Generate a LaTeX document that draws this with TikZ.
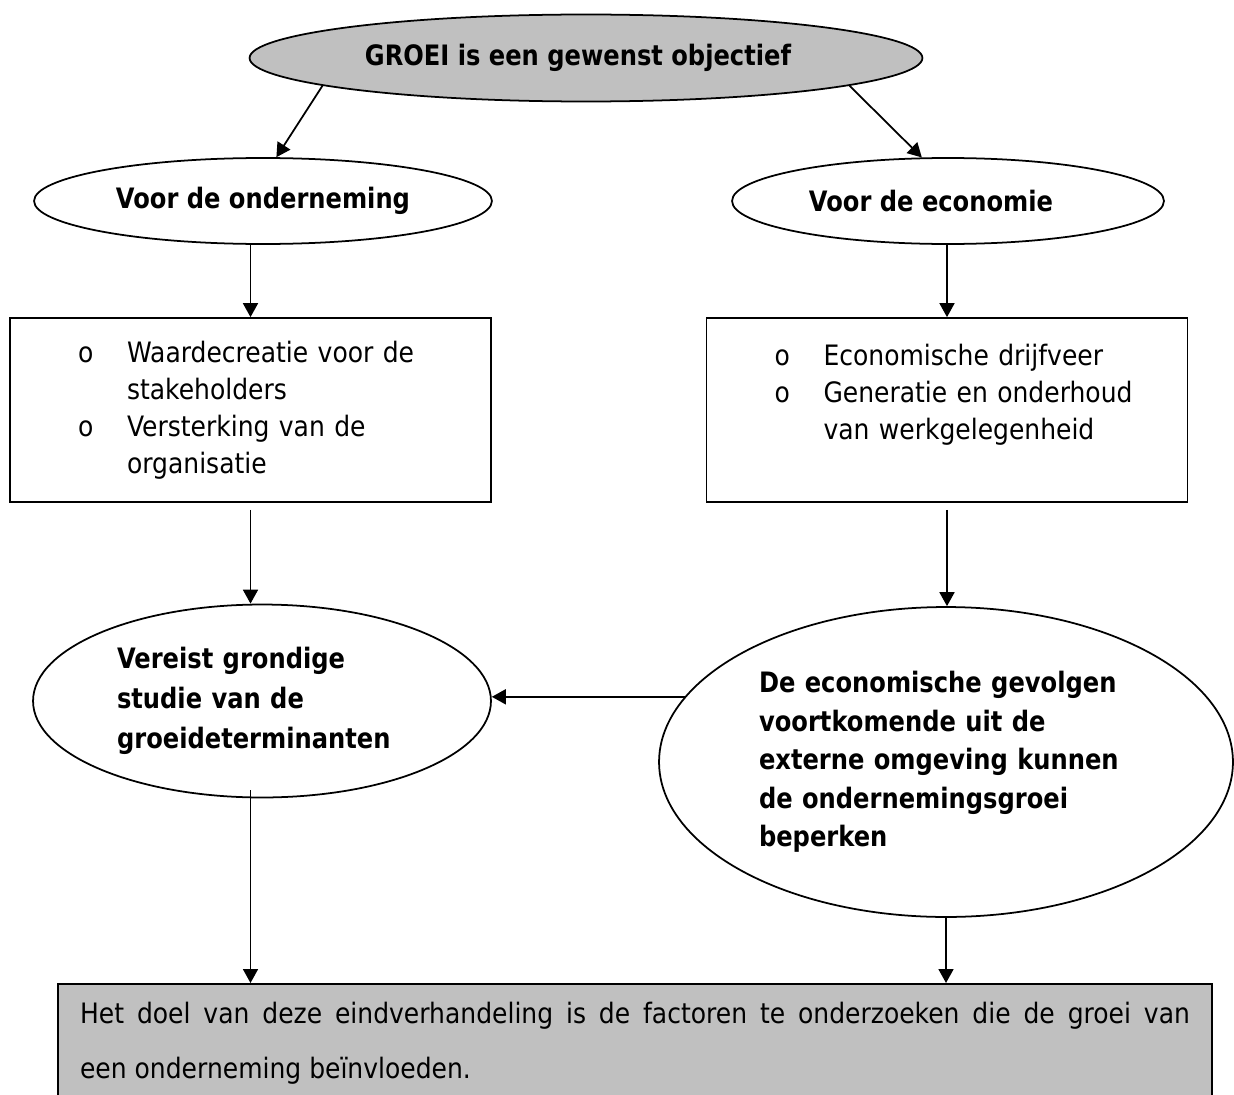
\documentclass[tikz,border=0pt]{standalone}
\usepackage{fontspec}
\setmainfont{DejaVu Sans}[FakeStretch=0.89, BoldFont={DejaVu Sans Bold}, BoldFeatures={FakeStretch=0.86}]
\usetikzlibrary{shapes.geometric, positioning, arrows.meta}
\definecolor{GroeiGray}{HTML}{C0C0C0}
\newcommand{\groeiitem}[1]{\leftskip=0.45cm\hyphenpenalty=10000\hangindent=0.98cm\hangafter=1\noindent\makebox[0.98cm][l]{o}#1\par}

\begin{document}
\begin{tikzpicture}[x=0.02cm, y=-0.02cm,
    oval/.style={draw, ellipse, line width=1pt, inner sep=0pt, font=\fontsize{16}{20}\selectfont\bfseries},
    lijstbox/.style={draw, rectangle, line width=1pt, minimum width=9.62cm, minimum height=3.68cm,
        inner xsep=0.91cm, text width=7.8cm, align=left, font=\fontsize{16}{21.1}\selectfont},
    pijl/.style={-{Triangle[length=0.28cm, width=0.3cm]}, line width=1pt}]
    \useasboundingbox (0,0) rectangle (1234,1095);
    % Ovals
    \node[oval, fill=GroeiGray, minimum width=13.46cm, minimum height=1.74cm] (groei) at (586,58) {GROEI is een gewenst objectief\hspace*{0.32cm}};
    \node[oval, minimum width=9.16cm, minimum height=1.72cm] (onder) at (263,201) {Voor de onderneming};
    \node[oval, minimum width=8.64cm, minimum height=1.72cm] (econ) at (948,201) {Voor de economie\hspace*{0.68cm}};

    % Boxes
    \node[lijstbox] (waarde) at (250.5,410) {\groeiitem{Waardecreatie voor de\newline stakeholders}\groeiitem{Versterking van de\newline organisatie}};
    \node[lijstbox] (drijf) at (947,410) {\groeiitem{Economische drijfveer}\groeiitem{Generatie en onderhoud\newline van werkgelegenheid}\mbox{}};

    % Lower ovals
    \node[oval, minimum width=9.16cm, minimum height=3.86cm, text width=5.8cm, align=left,
        font=\fontsize{16}{22.7}\selectfont\bfseries] (vereist) at (262,701) {Vereist grondige\\ studie van de\\ groeideterminanten};
    \node[oval, minimum width=11.48cm, minimum height=6.2cm, text width=7.48cm, align=left,
        font=\fontsize{16}{21.9}\selectfont\bfseries] (gevolg) at (946,762) {De economische gevolgen\\ voortkomende uit de\\ externe omgeving kunnen\\ de ondernemingsgroei\\ beperken};

    % Doel
    \node[draw, rectangle, line width=1pt, fill=GroeiGray, anchor=north, text width=22.2cm, inner xsep=0.44cm,
        inner ysep=0.37cm, align=justify, font=\fontsize{16}{31.2}\selectfont] (doel) at (635,983)
        {Het doel van deze eindverhandeling is de factoren te onderzoeken die de groei van\linebreak een onderneming beïnvloeden.};

    % Arrows
    \draw[pijl] (groei.186) -- (onder.73);
    \draw[pijl] (groei.354) -- (econ.121);
    \foreach \o/\b in {onder/waarde, econ/drijf} {
        \draw[pijl] (\o.south -| \b.north) -- (\b.north);
    }
    \draw[pijl] ([yshift=-0.14cm]waarde.south) -- (waarde.south |- vereist.north);
    \draw[pijl] ([yshift=-0.14cm]drijf.south) -- (drijf.south |- gevolg.north);
    \draw[pijl] (gevolg.166) -- (gevolg.166 -| vereist.east);
    \draw[pijl] ([yshift=0.16cm]vereist.south -| waarde.south) -- (waarde.south |- doel.north);
    \draw[pijl] (gevolg.south) -- (gevolg.south |- doel.north);
\end{tikzpicture}
\end{document}
